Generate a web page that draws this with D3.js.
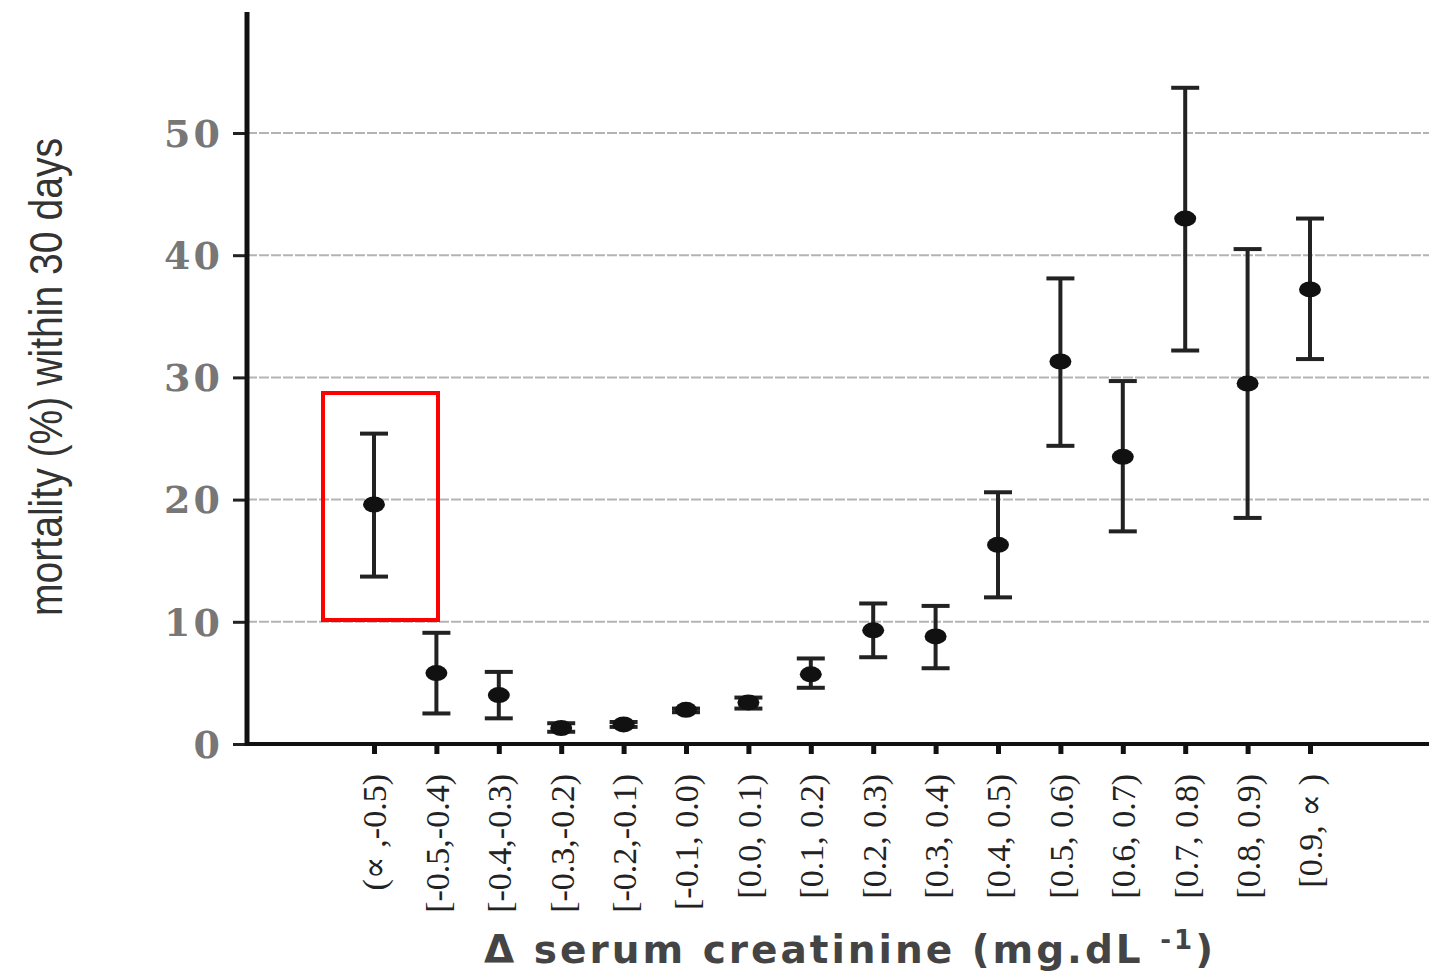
<!DOCTYPE html>
<html>
<head>
<meta charset="utf-8">
<script src="https://cdn.jsdelivr.net/npm/d3@7"></script>
<style>
  body { margin: 0; background: #fff; }
  svg { display: block; }
</style>
</head>
<body>
<div id="chart"></div>
<script>
// creatinine change bins
let categories = ["(\u221D ,-0.5)", "[-0.5,-0.4)", "[-0.4,-0.3)", "[-0.3,-0.2)", "[-0.2,-0.1)",
    "[-0.1, 0.0)", "[0.0, 0.1)", "[0.1, 0.2)", "[0.2, 0.3)", "[0.3, 0.4)", "[0.4, 0.5)",
    "[0.5, 0.6)", "[0.6, 0.7)", "[0.7, 0.8)", "[0.8, 0.9)", "[0.9, \u221D )"];
let mortality = [19.6, 5.8, 4.0, 1.3, 1.6, 2.8, 3.4, 5.7, 9.3, 8.8, 16.3, 31.3, 23.5, 43.0, 29.5, 37.2];
let upperCI = [25.4, 9.1, 5.9, 1.7, 1.8, 2.9, 3.8, 7.0, 11.5, 11.3, 20.6, 38.1, 29.7, 53.7, 40.5, 43.0];
let lowerCI = [13.7, 2.5, 2.1, 1.0, 1.4, 2.6, 2.9, 4.6, 7.1, 6.2, 12.0, 24.4, 17.4, 32.2, 18.5, 31.5];
let yTicks = [0, 10, 20, 30, 40, 50];

let width = 1429, height = 974;
let margin = {top: 12, right: 0, bottom: 230, left: 247};

let svg = d3.select("#chart").append("svg")
    .attr("width", width)
    .attr("height", height);

let yScale = d3.scaleLinear()
    .domain([0, 50])
    .range([744, 133]);

let xScale = d3.scalePoint()
    .domain(categories)
    .range([374, 1310]);

// grid lines
svg.append("g")
    .selectAll("line")
    .data(yTicks.filter(d => d > 0))
    .enter().append("line")
    .attr("x1", margin.left)
    .attr("x2", width)
    .attr("y1", d => yScale(d))
    .attr("y2", d => yScale(d))
    .attr("stroke", "#b4b4b4")
    .attr("stroke-width", 2)
    .attr("stroke-dasharray", "10,2");

// y axis
let yAxis = svg.append("g")
    .attr("transform", "translate(" + margin.left + ",0)")
    .call(d3.axisLeft(yScale).tickValues(yTicks).tickSize(14).tickPadding(10));
yAxis.select(".domain").remove();
yAxis.selectAll(".tick line").attr("stroke", "#222").attr("stroke-width", 3);
yAxis.selectAll(".tick text")
    .attr("font-family", "'DejaVu Serif', 'Liberation Serif', serif")
    .attr("font-size", 38)
    .attr("font-weight", "bold")
    .attr("letter-spacing", 3)
    .attr("fill", "#777")
    .attr("dy", "0.35em");
svg.append("line")
    .attr("x1", margin.left).attr("x2", margin.left)
    .attr("y1", margin.top).attr("y2", 746)
    .attr("stroke", "#111").attr("stroke-width", 5);

// x axis
let xAxis = svg.append("g")
    .attr("transform", "translate(0,744)")
    .call(d3.axisBottom(xScale).tickSize(10).tickPadding(20));
xAxis.select(".domain").remove();
xAxis.selectAll(".tick line").attr("stroke", "#111").attr("stroke-width", 5);
xAxis.selectAll(".tick text")
    .attr("transform", "rotate(-90)")
    .attr("text-anchor", "end")
    .attr("x", -30)
    .attr("y", 0)
    .attr("dy", "0.35em")
    .attr("font-family", "'Liberation Serif', 'DejaVu Serif', serif")
    .attr("font-size", 34)
    .attr("fill", "#222");
svg.append("line")
    .attr("x1", margin.left).attr("x2", width)
    .attr("y1", 744).attr("y2", 744)
    .attr("stroke", "#111").attr("stroke-width", 4);

// error bars
let capW = 14;
let bars = svg.append("g").selectAll("g")
    .data(categories)
    .enter().append("g");
bars.append("line")
    .attr("x1", d => xScale(d)).attr("x2", d => xScale(d))
    .attr("y1", (d, i) => yScale(upperCI[i]))
    .attr("y2", (d, i) => yScale(lowerCI[i]))
    .attr("stroke", "#222").attr("stroke-width", 4);
bars.append("line")
    .attr("x1", d => xScale(d) - capW).attr("x2", d => xScale(d) + capW)
    .attr("y1", (d, i) => yScale(upperCI[i]))
    .attr("y2", (d, i) => yScale(upperCI[i]))
    .attr("stroke", "#222").attr("stroke-width", 4);
bars.append("line")
    .attr("x1", d => xScale(d) - capW).attr("x2", d => xScale(d) + capW)
    .attr("y1", (d, i) => yScale(lowerCI[i]))
    .attr("y2", (d, i) => yScale(lowerCI[i]))
    .attr("stroke", "#222").attr("stroke-width", 4);
bars.append("ellipse")
    .attr("cx", d => xScale(d))
    .attr("cy", (d, i) => yScale(mortality[i]))
    .attr("rx", 11).attr("ry", 8)
    .attr("fill", "#111");

// axis titles
svg.append("text")
    .attr("transform", "translate(62,377) rotate(-90)")
    .attr("text-anchor", "middle")
    .attr("font-family", "'Liberation Sans Narrow', 'Liberation Sans', Arial, sans-serif")
    .attr("font-size", 46)
    .attr("fill", "#333")
    .attr("textLength", 478)
    .attr("lengthAdjust", "spacingAndGlyphs")
    .text("mortality (%) within 30 days");

let xTitle = svg.append("text")
    .attr("x", 850)
    .attr("y", 963)
    .attr("text-anchor", "middle")
    .attr("font-family", "'DejaVu Sans', Verdana, sans-serif")
    .attr("font-weight", "bold")
    .attr("font-size", 39)
    .attr("letter-spacing", 3)
    .attr("fill", "#444");
xTitle.append("tspan").text("\u0394 serum creatinine (mg.dL ");
xTitle.append("tspan").attr("dy", -14).attr("font-size", 26).text("-1");
xTitle.append("tspan").attr("dy", 14).text(")");

// highlight box
svg.append("rect")
    .attr("x", xScale(categories[0]) - 51)
    .attr("y", 393)
    .attr("width", 115)
    .attr("height", 227)
    .attr("fill", "none")
    .attr("stroke", "#f00")
    .attr("stroke-width", 4);
</script>
</body>
</html>
